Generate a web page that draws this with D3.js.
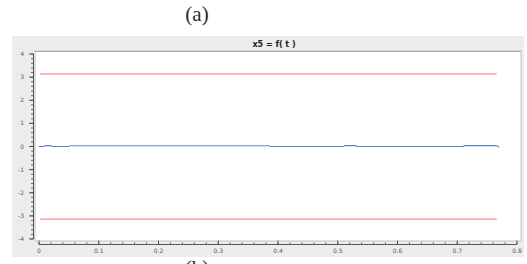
<!DOCTYPE html>
<html lang="en">
<head>
<meta charset="UTF-8">
<title>x5 = f( t )</title>
<script src="https://d3js.org/d3.v7.min.js"></script>
<style>
  body { margin: 0; background: #fff; overflow: hidden; }
  svg { display: block; }
  .tick-label { font-family: "DejaVu Sans", sans-serif; font-size: 6px; fill: #5a5868; }
  .caption { font-family: "Liberation Serif", "DejaVu Serif", serif; font-size: 21px; fill: #2a2a2a; }
</style>
</head>
<body>
<script>
// data
const blueT = [0, 0.008, 0.01, 0.02, 0.022, 0.05, 0.052, 0.385, 0.387, 0.51, 0.512, 0.53, 0.532, 0.71, 0.712, 0.765, 0.77];
const blueX = [0.0, 0.0, 0.04, 0.04, 0.0, 0.0, 0.03, 0.03, 0.0, 0.0, 0.04, 0.04, 0.0, 0.0, 0.04, 0.04, -0.02];
const limitT = [0.002, 0.766];
const limitVals = [Math.PI, -Math.PI];
const xTicks = [0, 0.1, 0.2, 0.3, 0.4, 0.5, 0.6, 0.7, 0.8];
const yTicks = [-4, -3, -2, -1, 0, 1, 2, 3, 4];

const W = 527, H = 264;
const svg = d3.select("body").append("svg").attr("width", W).attr("height", H);

// caption above
svg.append("text").attr("class", "caption").attr("x", 197).attr("y", 21)
  .attr("text-anchor", "middle").text("(a)");

// gray panel
svg.append("rect").attr("x", 12).attr("y", 36).attr("width", 512).attr("height", 221).attr("fill", "#ebecec");

svg.append("text").attr("x", 274).attr("y", 47).attr("text-anchor", "middle")
  .style("font", "bold 8px 'DejaVu Sans', sans-serif").style("fill", "#222").text("x5 = f( t )");

// plot area
svg.append("rect").attr("x", 35).attr("y", 51).attr("width", 486).attr("height", 190)
  .attr("fill", "#fff").attr("stroke", "#c4c4c4").attr("stroke-width", 1);
svg.append("line").attr("x1", 35).attr("x2", 521).attr("y1", 51.5).attr("y2", 51.5)
  .attr("stroke", "#a8a8a8").attr("stroke-width", 1.2);

const x = d3.scaleLinear().domain([0, 0.8]).range([39, 517]);
const y = d3.scaleLinear().domain([-4, 4]).range([239, 54]);

// x axis
const xAxisY = 244;
svg.append("line").attr("x1", x(0)).attr("x2", x(0.8)).attr("y1", xAxisY + 0.5).attr("y2", xAxisY + 0.5)
  .attr("stroke", "#333").attr("stroke-width", 0.8);
d3.range(0, 0.8001, 0.02).forEach(v => {
  svg.append("line").attr("x1", x(v)).attr("x2", x(v)).attr("y1", xAxisY).attr("y2", xAxisY - 1.5)
    .attr("stroke", "#333").attr("stroke-width", 0.8);
});
xTicks.forEach(v => {
  svg.append("line").attr("x1", x(v)).attr("x2", x(v)).attr("y1", xAxisY + 0.5).attr("y2", xAxisY - 3.5)
    .attr("stroke", "#333").attr("stroke-width", 0.8);
  svg.append("text").attr("class", "tick-label").attr("x", x(v)).attr("y", xAxisY + 9)
    .attr("text-anchor", "middle").text(v === 0 ? "0" : d3.format(".1f")(v));
});

// y axis
const yAxisX = 33;
svg.append("line").attr("x1", yAxisX + 0.5).attr("x2", yAxisX + 0.5).attr("y1", y(-4)).attr("y2", y(4))
  .attr("stroke", "#333").attr("stroke-width", 0.8);
d3.range(-4, 4.001, 0.2).forEach(v => {
  svg.append("line").attr("x1", yAxisX).attr("x2", yAxisX - 2).attr("y1", y(v)).attr("y2", y(v))
    .attr("stroke", "#333").attr("stroke-width", 0.7);
});
yTicks.forEach(v => {
  svg.append("line").attr("x1", yAxisX + 0.5).attr("x2", yAxisX - 4).attr("y1", y(v)).attr("y2", y(v))
    .attr("stroke", "#333").attr("stroke-width", 0.8);
  svg.append("text").attr("class", "tick-label").attr("x", 24).attr("y", y(v) + 2)
    .attr("text-anchor", "end").text(v);
});

// limit lines
limitVals.forEach(val => {
  svg.append("line").attr("x1", x(limitT[0])).attr("x2", x(limitT[1]))
    .attr("y1", y(val)).attr("y2", y(val))
    .attr("stroke", "#f7b0ae").attr("stroke-width", 1.6);
});

// x5 trace
const line = d3.line().x(d => x(d[0])).y(d => y(d[1]));
svg.append("path").datum(blueT.map((t, i) => [t, blueX[i]]))
  .attr("d", line).attr("fill", "none").attr("stroke", "#5f80c8").attr("stroke-width", 1.1);

// caption below (cut off by the picture edge, as in the reference)
svg.append("text").attr("class", "caption").attr("x", 197).attr("y", 275)
  .attr("text-anchor", "middle").text("(b)");
</script>
</body>
</html>
